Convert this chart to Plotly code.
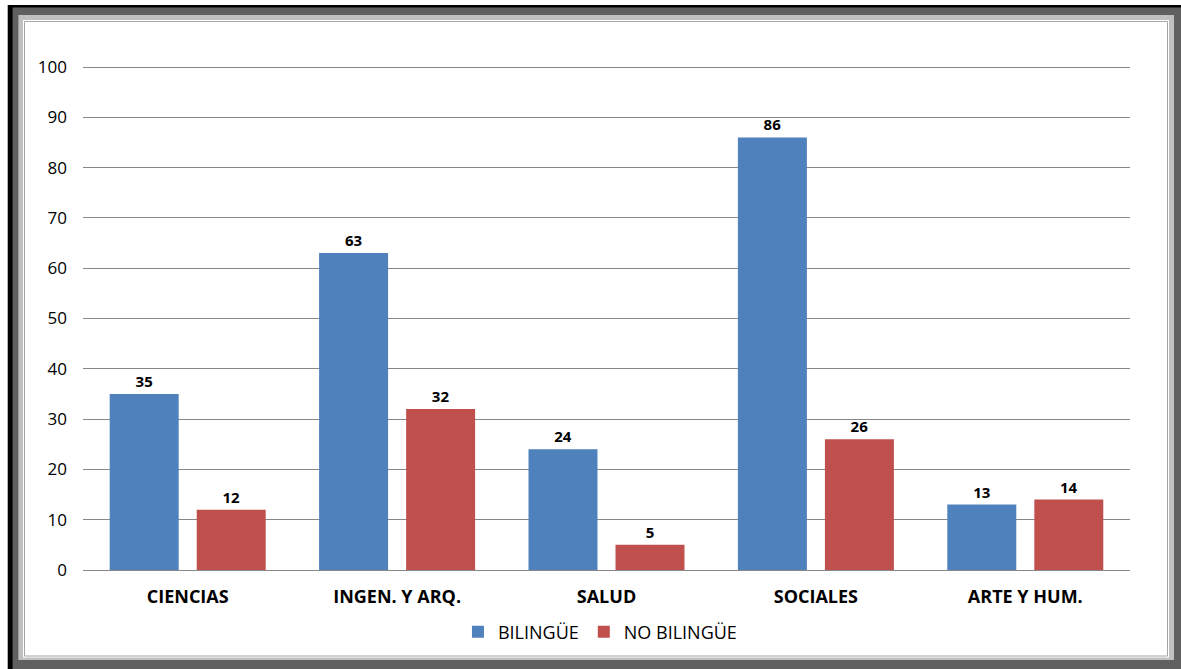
import plotly.graph_objects as go

categories = ["CIENCIAS", "INGEN. Y ARQ.", "SALUD", "SOCIALES", "ARTE Y HUM."]
bilingue = [35, 63, 24, 86, 13]
no_bilingue = [12, 32, 5, 26, 14]
series_names = ["BILINGÜE", "NO BILINGÜE"]
colors = ["#4f81bd", "#c0504d"]
y_ticks = [0, 10, 20, 30, 40, 50, 60, 70, 80, 90, 100]

W, H = 1181, 669
FONT = "Open Sans"

def px(x):
    return x / W

def py(y):
    return 1 - y / H

fig = go.Figure()
for name, vals, col in zip(series_names, [bilingue, no_bilingue], colors):
    fig.add_trace(go.Bar(
        x=categories, y=vals, name=name,
        marker=dict(color=col, line=dict(width=0)),
        text=[str(v) for v in vals], textposition="outside",
        textfont=dict(family=FONT, size=15, color="#000000", weight="bold"),
        cliponaxis=False,
    ))

shapes = []
def rect(x0, y0, x1, y1, fill, line_color=None, lw=0):
    shapes.append(dict(type="rect", xref="paper", yref="paper",
                       x0=px(x0), x1=px(x1), y0=py(y1), y1=py(y0),
                       fillcolor=fill,
                       line=dict(color=line_color or fill, width=lw),
                       layer="below"))

rect(7.7, 5, W, H, "#000000")
rect(12.6, 7.5, W, H, "#606060")
rect(18.4, 15, 1174, 660, "#c0c0c0")
rect(23, 20, 1169, 657.5, "#ffffff")
rect(24.5, 21.5, 1167.5, 656, "rgba(0,0,0,0)", "#a6a6a6", 1)

# y range slightly above 100 so the top gridline is drawn
Y_TOP = 100.5
dom_top_px = 570 - (570 - 67) * Y_TOP / 100

fig.update_layout(
    width=W, height=H,
    margin=dict(l=0, r=0, t=0, b=0, autoexpand=False),
    paper_bgcolor="#ffffff", plot_bgcolor="rgba(0,0,0,0)",
    barmode="group", bargap=0.169, bargroupgap=0.207,
    shapes=shapes,
    showlegend=True,
    legend=dict(orientation="h", x=0.508, xanchor="center", y=py(632), yanchor="middle",
                font=dict(family=FONT, size=18, color="#000000"),
                itemwidth=30, tracegroupgap=0, bgcolor="rgba(0,0,0,0)"),
    font=dict(family=FONT, color="#000000"),
)
fig.update_xaxes(domain=[px(83), px(1130)], showline=False, showgrid=False, ticks="",
                 tickfont=dict(family=FONT, size=18, color="#000000", weight="bold"),
                 ticklabelstandoff=14)
fig.update_yaxes(domain=[py(570), py(dom_top_px)], range=[0, Y_TOP], tickvals=y_ticks,
                 showgrid=True, gridcolor="#888888", gridwidth=1,
                 zeroline=True, zerolinecolor="#888888", zerolinewidth=1,
                 showline=False, ticks="",
                 tickfont=dict(family=FONT, size=17, color="#000000"),
                 ticklabelstandoff=15)

fig.write_html("out.html",
               config={"displayModeBar": False},
               post_script="document.body.style.margin='0';document.body.style.overflow='hidden';")
